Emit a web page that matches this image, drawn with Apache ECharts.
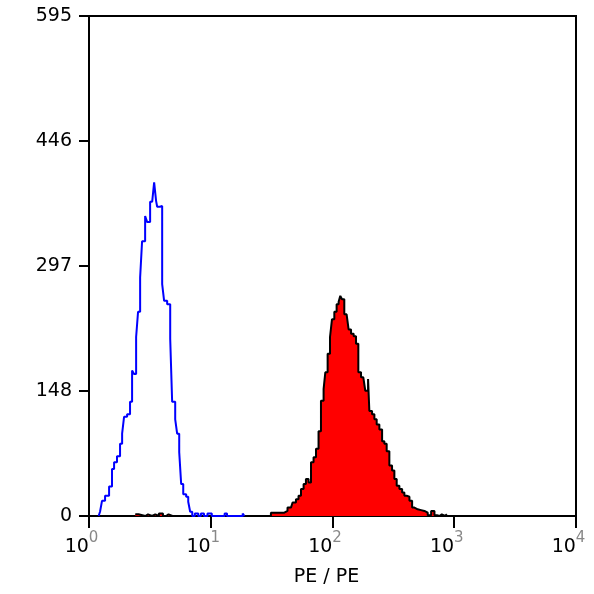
<!DOCTYPE html>
<html>
<head>
<meta charset="utf-8">
<script src="https://cdn.jsdelivr.net/npm/echarts@6/dist/echarts.min.js"></script>
<style>
html,body{margin:0;padding:0;background:#fff;}
#chart{width:594px;height:594px;}
</style>
</head>
<body>
<div id="chart"></div>
<script>
// Unstained / isotype control (blue outline) : fluorescence value, count
var blueX = [1.2,1.232,1.279,1.355,1.462,1.545,1.607,1.698,1.799,1.871,1.941,2.056,2.173,2.259,2.344,2.438,2.529,2.630,2.729,2.891,2.999,3.177,3.304,3.428,3.556,3.631,3.837,3.990,4.140,4.385,4.645,4.819,5.105,5.297,5.508,5.715,5.943,6.281,6.531,6.776,7.047,7.4,7.9,8.3,8.8,9.4,10.2,13.0,13.6,18.3,18.9];
var blueY = [0,5,18,24,35,56,64,71,86,98,118,121,136,173,169,213,243,284,327,357,350,374,375,397,375,368,369,276,256,252,211,136,115,98,76,38,26,23,17,5,0,3,0,3,0,3,0,3,0,3,0];

// Stained sample (red filled, black outline)
var redX = [2.4,2.55,2.9,3.05,3.3,3.5,3.75,4.05,4.3,4.5,4.85,5.0,31.2,40.2,42.7,45.6,47.0,50.1,52.6,55.1,57.9,60.5,63.6,66.6,69.9,73.2,76.8,80.4,84.5,87.3,91.2,95.4,99.0,103.5,108.1,112.3,115.9,119.7,125.0,130.6,135.6,142.0,149.2,156.0,163.0,171.5,179.1,186.0,195.9,200.8,211.3,220.8,230.6,242.6,255.5,266.7,278.6,293.1,308.4,322.2,336.7,354.3,373.2,389.4,406.6,428.5,450.8,470.8,501.0,534.2,568.9,605.6,645.8,687.7,720,760,790,840,870];
var redY = [2,0,2,0,2,0,3,0,2,0,2,0,4,6,10,12,16,20,24,32,38,44,40,64,70,80,101,137,151,171,193,213,234,243,252,255,262,258,240,238,222,217,214,205,171,165,163,149,163,125,121,115,109,103,89,86,77,60,54,44,36,32,28,24,23,18,10,8,7,6,4,1,6,1,0,2,0,2,0];

var yTicks = [0,148,297,446,595];
var xTickExps = [0,1,2,3,4];
var xName = 'PE / PE';

function pairs(xs, ys){ var d=[]; for(var i=0;i<xs.length;i++){ d.push([xs[i], ys[i]]); } return d; }

var chart = echarts.init(document.getElementById('chart'));
var font = 'DejaVu Sans';
chart.setOption({
  animation:false,
  backgroundColor:'#fff',
  grid:{left:89,right:18,top:16,bottom:78,show:true,borderColor:'#000',borderWidth:2,backgroundColor:'transparent'},
  xAxis:{
    type:'log', logBase:10, min:1, max:10000,
    name:xName, nameLocation:'middle', nameGap:52,
    nameTextStyle:{fontFamily:font,fontSize:19,color:'#000',padding:[0,12,0,0]},
    axisLine:{show:true,lineStyle:{color:'#000',width:2}},
    axisTick:{show:true,length:12,lineStyle:{color:'#000',width:2}},
    minorTick:{show:false},
    splitLine:{show:false},
    axisLabel:{
      margin:15,
      padding:[0,15,0,0],
      formatter:function(v){
        var e = Math.round(Math.log(v)/Math.LN10);
        if (xTickExps.indexOf(e) < 0) return '';
        return '{b|10}{e|' + e + '}';
      },
      rich:{
        b:{fontFamily:font,fontSize:19,color:'#000',verticalAlign:'bottom',lineHeight:26},
        e:{fontFamily:font,fontSize:15,color:'#888',verticalAlign:'top',lineHeight:26}
      }
    }
  },
  yAxis:{
    type:'value', min:0, max:595, interval:148.75,
    axisLine:{show:true,lineStyle:{color:'#000',width:2}},
    axisTick:{show:true,length:10,lineStyle:{color:'#000',width:2}},
    splitLine:{show:false},
    axisLabel:{
      margin:17,
      fontFamily:font,fontSize:19,color:'#000',
      formatter:function(v){ var t = Math.floor(v); return yTicks.indexOf(t)>=0 ? String(t) : ''; }
    }
  },
  series:[
    {
      type:'line', step:'end', showSymbol:false, symbol:'none',
      data:pairs(redX, redY),
      lineStyle:{color:'#000',width:2},
      areaStyle:{color:'#ff0000',opacity:1},
      z:2
    },
    {
      type:'line', step:'end', showSymbol:false, symbol:'none',
      data:pairs(blueX, blueY),
      lineStyle:{color:'#0000ff',width:2},
      z:3
    }
  ]
});
</script>
</body>
</html>
